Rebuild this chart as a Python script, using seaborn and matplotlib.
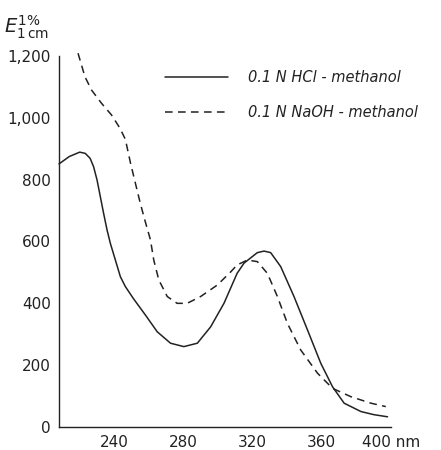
import pandas as pd
import matplotlib.pyplot as plt
import seaborn as sns

# wavelength (nm) / E(1%, 1cm)
hcl_nm = [208, 214, 220, 223.2, 226, 228, 230, 231.9, 233.8, 235.8, 237.7, 240.6, 243.5, 246.4, 251.2, 258,
          264.8, 272.5, 280.2, 288, 295.7, 303.4, 311, 315, 322.7, 326.6, 330.4, 336.2, 343.9, 351.7, 359.4,
          366.2, 372.9, 382.6, 390, 398]
hcl_e = [851, 875, 889, 885, 869, 842, 799, 745, 691, 637, 594, 540, 486, 454, 414, 362,
         308, 271, 260, 271, 324, 400, 497, 530, 564, 569, 564, 519, 422, 314, 206,
         130, 77, 50, 40, 33]

naoh_nm = [219, 223, 226.8, 232.6, 238.4, 243.3, 246.4, 249.3, 252.2, 255, 257.6, 260.9, 262.8, 265.7, 270.6,
           276.3, 282.1, 289.9, 299.5, 307, 311, 316.9, 322.7, 328.5, 334.3, 340.1, 347.8, 357.5, 366.2, 376.8,
           388.4, 397]
naoh_e = [1209, 1133, 1090, 1047, 1009, 966, 930, 855, 788, 724, 670, 605, 540, 476, 422,
          400, 400, 422, 459, 500, 524, 540, 535, 497, 422, 335, 249, 174, 125, 98,
          77, 66]

labels = ['0.1 N HCl - methanol', '0.1 N NaOH - methanol']
x_ticks = [240, 280, 320, 360, 400]
x_ticklabels = ['240', '280', '320', '360', '400 nm']
y_ticks = [0, 200, 400, 600, 800, 1000, 1200]
y_ticklabels = ['0', '200', '400', '600', '800', '1,000', '1,200']

df = pd.concat([
    pd.DataFrame({'nm': hcl_nm, 'E': hcl_e, 'solvent': labels[0]}),
    pd.DataFrame({'nm': naoh_nm, 'E': naoh_e, 'solvent': labels[1]}),
])

sns.set_style('white')
plt.rcParams['font.family'] = ['DejaVu Sans']

fig = plt.figure(figsize=(4.41, 4.50), dpi=100)
ax = fig.add_axes([59 / 441, 23 / 450, (391 - 59) / 441, (427 - 56) / 450])

ink = '#222222'
sns.lineplot(data=df, x='nm', y='E', style='solvent', hue='solvent',
             palette=[ink, ink], dashes={labels[0]: '', labels[1]: (5, 3.5)},
             sort=False, estimator=None, linewidth=1.1, ax=ax, legend=False)
for line in ax.get_lines():
    line.set_clip_on(False)
    line.set_solid_joinstyle('round')
    line.set_dash_joinstyle('round')

ax.set_xlim(208, 400)
ax.set_ylim(0, 1200)
ax.set_xticks(x_ticks)
ax.set_xticklabels(x_ticklabels)
ax.set_yticks(y_ticks)
ax.set_yticklabels(y_ticklabels)
ax.set_xlabel('')
ax.set_ylabel('')
for side in ['top', 'right']:
    ax.spines[side].set_visible(False)
for side in ['left', 'bottom']:
    ax.spines[side].set_color(ink)
    ax.spines[side].set_linewidth(1.0)
ax.tick_params(axis='both', direction='in', length=5, width=1.0, color=ink,
               labelsize=11, labelcolor=ink, pad=6)

handles = ax.get_lines()[:2]
leg = ax.legend(handles, labels, loc='upper left', frameon=False,
                bbox_to_anchor=(165 / 441, 1 - 70 / 450), bbox_transform=fig.transFigure,
                borderpad=0, borderaxespad=0, handlelength=4.3, handletextpad=1.4,
                labelspacing=1.4, prop={'size': 10.5, 'style': 'italic'})
for t in leg.get_texts():
    t.set_color(ink)

fig.text(4 / 441, 1 - 33 / 450, r'$E_{1\,\mathrm{cm}}^{1\%}$', fontsize=14, color=ink)

fig.savefig('out.png', dpi=100)
